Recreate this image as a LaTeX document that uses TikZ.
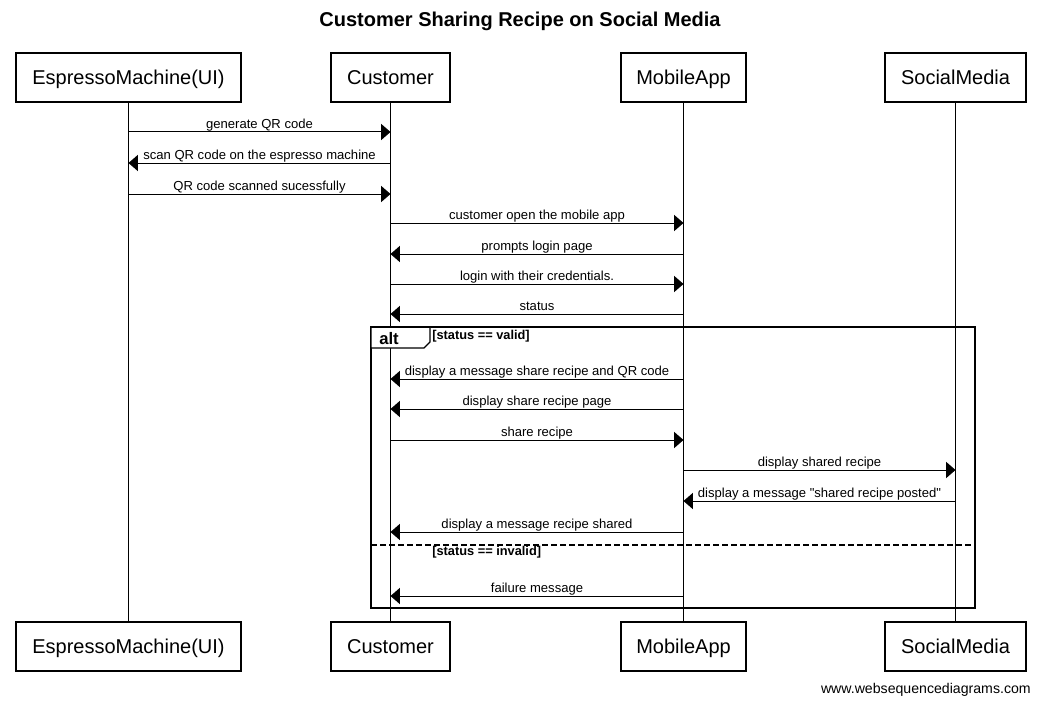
\documentclass[tikz,border=0pt]{standalone}
\usepackage{fontspec}
\setmainfont{Liberation Sans}
\newfontfamily\lblfont{Liberation Sans}
\usetikzlibrary{arrows.meta}
\begin{document}
\begin{tikzpicture}[x=0.75pt,y=-0.75pt,
  part/.style={draw, line width=0.8pt, minimum height=49*0.75pt, inner sep=0pt, text height=12pt, text depth=1.3pt, font=\fontsize{15pt}{17pt}\selectfont},
  life/.style={line width=0.75pt},
  msg/.style={line width=0.75pt, -{Triangle[length=7pt,width=12pt]}},
  lbl/.style={anchor=base, inner sep=0pt, yshift=2.6pt, font=\lblfont\fontsize{9.8pt}{11pt}\selectfont},
  frame/.style={line width=1.4pt},
  guard/.style={anchor=west, inner sep=0pt, font=\bfseries\fontsize{9.6pt}{11pt}\selectfont}
]
\useasboundingbox (0,0) rectangle (1041,706);
\node[font=\bfseries\fontsize{15pt}{18pt}\selectfont] (title) at (520,21) {Customer Sharing Recipe on Social Media};
% participants top
\node[part, minimum width=225*0.75pt] (em) at (128.5,77.5) {EspressoMachine(UI)};
\node[part, minimum width=119*0.75pt] (cu) at (390.5,77.5) {Customer};
\node[part, minimum width=125*0.75pt] (ma) at (683.5,77.5) {MobileApp};
\node[part, minimum width=141*0.75pt] (sm) at (955.5,77.5) {SocialMedia};
% participants bottom
\node[part, minimum width=225*0.75pt] (em2) at (128.5,646.5) {EspressoMachine(UI)};
\node[part, minimum width=119*0.75pt] (cu2) at (390.5,646.5) {Customer};
\node[part, minimum width=125*0.75pt] (ma2) at (683.5,646.5) {MobileApp};
\node[part, minimum width=141*0.75pt] (sm2) at (955.5,646.5) {SocialMedia};
% lifelines
\draw[life] (em) -- (em2);
\draw[life] (cu) -- (cu2);
\draw[life] (ma) -- (ma2);
\draw[life] (sm) -- (sm2);
% alt frame
\draw[frame] (371,327) rectangle (975,608);
\filldraw[fill=white, line width=1pt] (371,327) -- (371,348) -- (424,348) -- (430,342) -- (430,327) -- cycle;
\draw[frame] (371,327) -- (430,327);
\node[font=\bfseries\fontsize{12.5pt}{14pt}\selectfont, inner sep=0pt] (alt) at (389,338.5) {alt};
\node[guard] (g1) at (432,336) {[status == valid]};
\draw[line width=1pt, dash pattern=on 4.5pt off 2.25pt] (371,545) -- (975,545);
\node[guard] (g2) at (432,552) {[status == invalid]};
% messages
\foreach \f/\t/\y/\l [count=\i] in {
  em/cu/132/generate QR code,
  cu/em/163/scan QR code on the espresso machine,
  em/cu/194/QR code scanned sucessfully,
  cu/ma/223/customer open the mobile app,
  ma/cu/254/prompts login page,
  cu/ma/284/login with their credentials.,
  ma/cu/314/status,
  ma/cu/379/display a message share recipe and QR code,
  ma/cu/409/display share recipe page,
  cu/ma/440/share recipe,
  ma/sm/470/display shared recipe,
  sm/ma/501/display a message "shared recipe posted",
  ma/cu/532/display a message recipe shared,
  ma/cu/596/failure message}{
  \coordinate (m\i s) at (\f |- 0,\y);
  \coordinate (m\i e) at (\t |- 0,\y);
  \draw[msg] (m\i s) -- node[lbl] (l\i) {\l} (m\i e);
}
\node[anchor=east, inner sep=0pt, font=\fontsize{10.6pt}{12pt}\selectfont] (foot) at (1031,690) {www.websequencediagrams.com};
\end{tikzpicture}
\end{document}
